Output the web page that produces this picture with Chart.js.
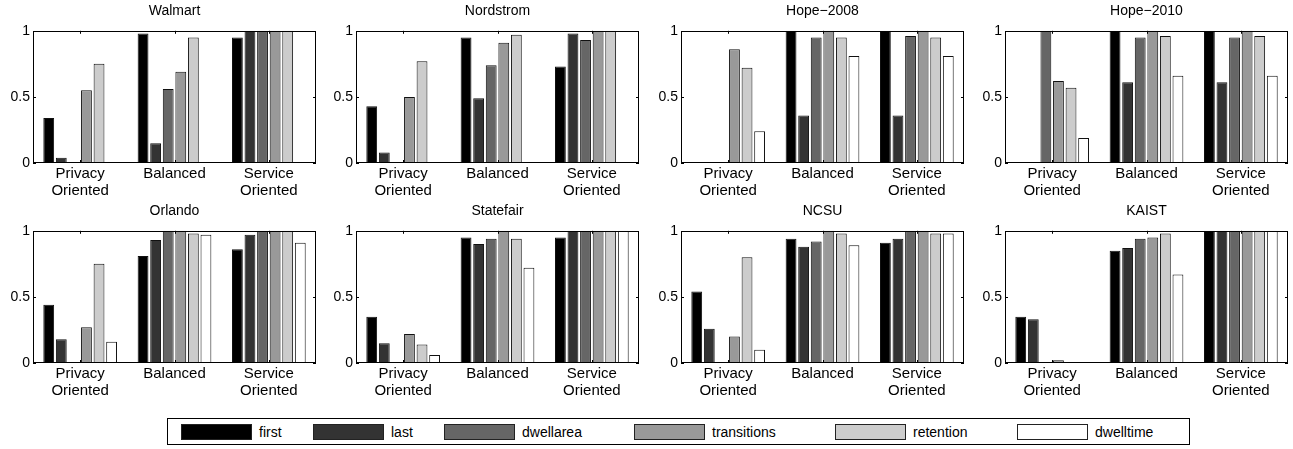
<!DOCTYPE html>
<html>
<head>
<meta charset="utf-8">
<script src="https://cdn.jsdelivr.net/npm/chart.js@4/dist/chart.umd.min.js"></script>
<style>
  body { margin: 0; background: #fff; font-family: "Liberation Sans", Arial, sans-serif; }
  #wrap { position: relative; width: 1293px; height: 449px; }
  canvas { position: absolute; }
  #legend { position: absolute; left: 167px; top: 418px; width: 1023px; height: 27px; border: 1px solid #000; box-sizing: border-box; }
  .sw { position: absolute; top: 5px; width: 71px; height: 16px; border: 1px solid #222; box-sizing: border-box; }
  .lt { position: absolute; top: 4px; font-size: 14px; line-height: 18px; color: #000; }
</style>
</head>
<body>
<div id="wrap"><div id="legend"></div></div>

<script>
var categories = [['Privacy', 'Oriented'], 'Balanced', ['Service', 'Oriented']];
var seriesNames = ['first', 'last', 'dwellarea', 'transitions', 'retention', 'dwelltime'];
var seriesColors = ['#000000', '#333333', '#666666', '#999999', '#cccccc', '#ffffff'];
var yTicks = [0, 0.5, 1];

// one row per series (first..dwelltime), one value per category
var walmart = [
  [0.34, 0.98, 0.95],
  [0.04, 0.15, 1.00],
  [0.005, 0.56, 1.00],
  [0.55, 0.69, 1.00],
  [0.75, 0.95, 1.00],
  [0, 0, 0]
];
var nordstrom = [
  [0.43, 0.95, 0.73],
  [0.08, 0.49, 0.98],
  [0.005, 0.74, 0.93],
  [0.50, 0.91, 1.00],
  [0.77, 0.97, 1.00],
  [0, 0, 0]
];
var hope2008 = [
  [0.005, 1.00, 1.00],
  [0, 0.36, 0.36],
  [0, 0.95, 0.96],
  [0.86, 1.00, 1.00],
  [0.72, 0.95, 0.95],
  [0.24, 0.81, 0.81]
];
var hope2010 = [
  [0.005, 1.00, 1.00],
  [0, 0.61, 0.61],
  [1.00, 0.95, 0.95],
  [0.62, 1.00, 1.00],
  [0.57, 0.96, 0.96],
  [0.19, 0.66, 0.66]
];
var orlando = [
  [0.44, 0.81, 0.86],
  [0.18, 0.93, 0.97],
  [0.005, 1.00, 1.00],
  [0.27, 1.00, 1.00],
  [0.75, 0.98, 1.00],
  [0.16, 0.97, 0.91]
];
var statefair = [
  [0.35, 0.95, 0.95],
  [0.15, 0.90, 1.00],
  [0.005, 0.94, 1.00],
  [0.22, 1.00, 1.00],
  [0.14, 0.94, 1.00],
  [0.06, 0.72, 1.00]
];
var ncsu = [
  [0.54, 0.94, 0.91],
  [0.26, 0.88, 0.94],
  [0.005, 0.92, 1.00],
  [0.20, 1.00, 1.00],
  [0.80, 0.98, 0.98],
  [0.10, 0.89, 0.98]
];
var kaist = [
  [0.35, 0.85, 1.00],
  [0.33, 0.87, 1.00],
  [0.005, 0.94, 1.00],
  [0.02, 0.95, 1.00],
  [0.005, 0.98, 1.00],
  [0.005, 0.67, 1.00]
];

var panels = [
  ['Walmart', walmart], ['Nordstrom', nordstrom], ['Hope\u22122008', hope2008], ['Hope\u22122010', hope2010],
  ['Orlando', orlando], ['Statefair', statefair], ['NCSU', ncsu], ['KAIST', kaist]
];

var colLeft = [0, 323, 648, 972];
var rowTop = [0, 200];

// box round the plot area plus inward tick marks, matlab style
var boxPlugin = {
  id: 'box',
  afterDatasetsDraw: function(chart) {
    var ctx = chart.ctx, a = chart.chartArea, x = chart.scales.x, y = chart.scales.y;
    ctx.save();
    ctx.strokeStyle = '#000';
    ctx.lineWidth = 1;
    ctx.strokeRect(Math.round(a.left) + 0.5, Math.round(a.top) + 0.5, Math.round(a.width) - 1, Math.round(a.height) - 1);
    ctx.beginPath();
    y.ticks.forEach(function(t) {
      var p = Math.round(y.getPixelForValue(t.value)) + 0.5;
      ctx.moveTo(a.left, p); ctx.lineTo(a.left + 3, p);
      ctx.moveTo(a.right, p); ctx.lineTo(a.right - 3, p);
    });
    x.ticks.forEach(function(t, i) {
      var p = Math.round(x.getPixelForTick(i)) + 0.5;
      ctx.moveTo(p, a.top); ctx.lineTo(p, a.top + 3);
      ctx.moveTo(p, a.bottom); ctx.lineTo(p, a.bottom - 3);
    });
    ctx.stroke();
    ctx.restore();
  }
};

var wrap = document.getElementById('wrap');

panels.forEach(function(p, k) {
  var c = document.createElement('canvas');
  c.width = 320; c.height = 205;
  c.style.left = colLeft[k % 4] + 'px';
  c.style.top = rowTop[Math.floor(k / 4)] + 'px';
  c.style.width = '320px'; c.style.height = '205px';
  wrap.appendChild(c);

  new Chart(c, {
    type: 'bar',
    data: {
      labels: categories,
      datasets: p[1].map(function(vals, i) {
        return {
          label: seriesNames[i],
          data: vals,
          backgroundColor: seriesColors[i],
          borderColor: '#111',
          borderWidth: 1,
          borderSkipped: 'start',
          categoryPercentage: 0.8,
          barPercentage: 0.86
        };
      })
    },
    options: {
      responsive: false,
      animation: false,
      devicePixelRatio: 1,
      layout: { padding: { left: 0, right: 4, top: 0, bottom: 0 } },
      plugins: {
        legend: { display: false },
        tooltip: { enabled: false },
        title: {
          display: true,
          text: p[0],
          fullSize: false,
          color: '#000',
          font: { family: '"Liberation Sans", Arial, sans-serif', size: 14, weight: 'normal' },
          padding: { top: 3, bottom: 11 }
        }
      },
      scales: {
        x: {
          grid: { display: false, drawTicks: false },
          border: { display: false },
          ticks: {
            color: '#000',
            padding: 3,
            maxRotation: 0,
            autoSkip: false,
            font: { family: '"Liberation Sans", Arial, sans-serif', size: 15, lineHeight: 1.1 }
          },
          afterFit: function(s) { s.height = 42; }
        },
        y: {
          min: 0,
          max: 1,
          grid: { display: false, drawTicks: false },
          border: { display: false },
          afterBuildTicks: function(s) { s.ticks = yTicks.map(function(v) { return { value: v }; }); },
          ticks: {
            color: '#000',
            padding: 3,
            font: { family: '"Liberation Sans", Arial, sans-serif', size: 14 },
            callback: function(v) { return String(v); }
          },
          afterFit: function(s) { s.width = 33; }
        }
      }
    },
    plugins: [boxPlugin]
  });
});

// legend drawn as html, matching the boxed matlab legend
var legendX = [13, 145, 276, 466, 667, 849];
var legend = document.getElementById('legend');
seriesNames.forEach(function(name, i) {
  var sw = document.createElement('div');
  sw.className = 'sw';
  sw.style.left = legendX[i] + 'px';
  sw.style.background = seriesColors[i];
  legend.appendChild(sw);
  var t = document.createElement('div');
  t.className = 'lt';
  t.style.left = (legendX[i] + 78) + 'px';
  t.textContent = name;
  legend.appendChild(t);
});
</script>
</body>
</html>
